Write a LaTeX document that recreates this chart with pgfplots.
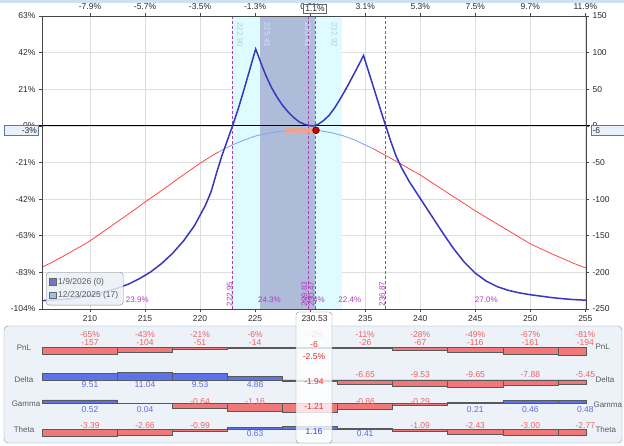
\documentclass[border=0pt]{standalone}
\usepackage{fontspec}
\setmainfont{Liberation Sans}
\usepackage{pgfplots}
\pgfplotsset{compat=1.18}

\definecolor{dblue}{RGB}{55,55,190}
\definecolor{lblue}{RGB}{130,170,240}
\definecolor{tred}{RGB}{255,70,70}
\definecolor{cyanfill}{RGB}{222,252,255}
\definecolor{darkfill}{RGB}{174,188,218}
\definecolor{purp}{RGB}{175,60,185}
\definecolor{barred}{RGB}{240,120,120}
\definecolor{barblue}{RGB}{90,115,235}
\definecolor{txtred}{RGB}{240,95,95}
\definecolor{txtblue}{RGB}{95,105,230}
\definecolor{cred}{RGB}{235,40,40}
\definecolor{cblue}{RGB}{50,60,230}
\definecolor{panelfill}{RGB}{237,242,249}
\definecolor{panelline}{RGB}{130,148,170}
\definecolor{gridc}{RGB}{222,222,222}
\definecolor{axc}{RGB}{70,70,70}
\definecolor{tickc}{RGB}{40,40,40}
\definecolor{salmon}{RGB}{240,165,140}
\definecolor{mred}{RGB}{200,10,10}
\definecolor{rowc}{RGB}{90,90,90}
\definecolor{labA}{RGB}{180,205,230}
\definecolor{labB}{RGB}{215,225,242}
\definecolor{legdark}{RGB}{95,95,195}
\definecolor{leglight}{RGB}{140,185,235}
\definecolor{legfill}{RGB}{234,240,248}
\definecolor{topbar}{RGB}{205,225,245}
\definecolor{boxfill}{RGB}{232,240,250}
\definecolor{boxline}{RGB}{90,120,160}

\newcommand{\tfs}{\fontsize{8.5}{10}\selectfont}
\newcommand{\tfsm}{\fontsize{8}{9.5}\selectfont}
\newcommand{\lab}[4]{\node[font=\tfs, text=#3, inner sep=0pt, yshift=#2] at (axis cs:#1,0) {#4};}

\pgfplotsset{
  rowaxis/.style={at={(42pt,-443pt)}, anchor=south west, scale only axis, width=544pt, height=117pt,
    xmin=205.64, xmax=255.06, hide axis, clip=false},
  negbar/.style={ybar interval, fill=barred, draw=black!65, line width=0.5pt},
  posbar/.style={ybar interval, fill=barblue, draw=black!65, line width=0.5pt},
}

\begin{document}
\begin{tikzpicture}[x=1pt,y=1pt]
\useasboundingbox (0,0) rectangle (624,-445);
\fill[topbar] (0,0) rectangle (624,-3);

% ---------------- main chart ----------------
\begin{axis}[at={(42pt,-309pt)}, anchor=south west, scale only axis, width=544pt, height=293pt,
  xmin=205.64, xmax=255.06, ymin=-250, ymax=150, clip=false,
  xtick={210,215,...,255}, xticklabels={210,215,220,225,{},235,240,245,250,255},
  ytick={-250,-200,...,150}, yticklabels={-104\%,-83\%,-63\%,-42\%,-21\%,0\%,21\%,42\%,63\%},
  xtick pos=left, ytick pos=left, tick align=outside, major tick length=3pt,
  grid=major, major grid style={gridc, line width=0.6pt},
  axis line style={axc, line width=0.9pt},
  every tick/.style={axc, line width=0.6pt},
  tick label style={font=\tfs, text=tickc}]

\addplot[fill=cyanfill, draw=none] coordinates {(222.90,-250) (232.92,-250) (232.92,150) (222.90,150)} -- cycle;
\addplot[fill=darkfill, draw=none] coordinates {(225.41,-250) (230.41,-250) (230.41,150) (225.41,150)} -- cycle;

% T+17 curve
\addplot[tred, line width=0.8pt] coordinates {(205.64,-193) (206.5,-186.5) (207.5,-178.5) (208.5,-170) (209.5,-161.5) (210,-157) (211,-146.5) (212,-136) (213,-125.5) (214,-115) (215,-104) (216,-93.5) (217,-83) (218,-72) (219,-61.5) (220,-51) (221,-41.5) (221.7,-35.5)};
\addplot[lblue, line width=0.9pt] coordinates {(221.7,-35.5) (222,-33) (223,-25.5) (224,-19.5) (225,-14) (226,-10.5) (227,-8) (228,-6.5) (229,-5.7) (229.8,-5.5) (230.53,-6) (231,-6.8) (232,-9.5) (233,-13.5) (234,-19) (235,-26) (235.7,-31)};
\addplot[tred, line width=0.8pt] coordinates {(235.7,-31) (236,-33.5) (237,-41.5) (238,-50) (239,-58.5) (240,-67) (241,-77) (242,-86.5) (243,-96.5) (244,-106) (245,-116) (246,-125) (247,-134) (248,-143) (249,-152) (250,-161) (251,-168) (252,-175) (253,-181.5) (254,-188) (255.06,-194)};

% zero line
\addplot[black, line width=0.8pt] coordinates {(205.37,0) (255.42,0)};

% dashed verticals
\addplot[purp, line width=1.2pt, dash pattern=on 3pt off 2pt] coordinates {(222.95,-250) (222.95,150)};
\addplot[purp, line width=1.2pt, dash pattern=on 3pt off 2pt] coordinates {(229.83,-250) (229.83,150)};
\addplot[purp, line width=1.2pt, dash pattern=on 3pt off 2pt] coordinates {(230.47,-250) (230.47,150)};
\addplot[purp, line width=1.2pt, dash pattern=on 3pt off 2pt] coordinates {(236.87,-250) (236.87,150)};

% expiration curve
\addplot[dblue, line width=1.5pt] coordinates {(205.64,-238.5) (206.5,-238) (207.5,-237) (208.5,-235.5) (209.5,-233) (210.5,-230) (211.5,-226) (212.5,-221.5) (213.5,-216) (214.5,-208.5) (215.5,-199.5) (216.5,-188) (217.5,-174) (218.5,-157) (219.5,-136) (220.5,-108) (221,-90) (221.5,-64) (222,-40) (222.5,-19) (222.95,0) (223.5,25) (224,50) (224.5,76) (225.05,105)
 (225.3,95) (225.6,83) (226,68) (226.5,52) (227,39) (227.5,28) (228,19) (228.5,11.5) (229,5.5) (229.5,2) (230,0.3) (230.3,0) (230.7,2) (231.2,7) (231.7,14) (232.2,24) (232.7,36) (233.2,49) (233.7,63) (234.2,77) (234.85,96)
 (235.5,65) (236,41) (236.5,17) (236.87,0) (237.3,-20) (237.8,-41) (238.3,-57) (239,-76) (240,-99) (241,-122) (242,-145) (243,-167) (244,-186) (245,-201) (246,-212) (247,-219.5) (248,-224.5) (249,-228) (250,-230.5) (251,-232.5) (252,-234.5) (253,-236) (254,-237.2) (255.06,-238)};

% expected band and marker
\addplot[fill=salmon, draw=none, fill opacity=0.85] coordinates {(227.7,-3) (230.4,-3) (230.4,-10) (227.7,-10)} -- cycle;
\addplot[only marks, mark=*, mark size=3.3pt, mark options={fill=mred, draw=black!60!red, line width=0.8pt}] coordinates {(230.53,-6)};

% vertical labels at top
\node[font=\tfsm, text=labA, anchor=south west, xshift=1.5pt, yshift=-3pt, rotate=-90] at (axis cs:222.90,150) {222.90};
\node[font=\tfsm, text=labB, anchor=south west, xshift=1.5pt, yshift=-3pt, rotate=-90] at (axis cs:225.41,150) {225.41};
\node[font=\tfsm, text=labB, anchor=north west, xshift=-0.5pt, yshift=-3pt, rotate=-90] at (axis cs:230.41,150) {230.41};
\node[font=\tfsm, text=labA, anchor=north west, xshift=-1.5pt, yshift=-3pt, rotate=-90] at (axis cs:232.92,150) {232.92};

% percent labels at bottom
\node[font=\tfsm, text=purp] at (axis cs:214.3,-250) [yshift=9pt] {23.9\%};
\node[font=\tfsm, text=purp] at (axis cs:226.3,-250) [yshift=9pt] {24.3\%};
\node[font=\tfsm, text=purp] at (axis cs:230.3,-250) [yshift=9pt] {23.4\%};
\node[font=\tfsm, text=purp] at (axis cs:233.6,-250) [yshift=9pt] {22.4\%};
\node[font=\tfsm, text=purp] at (axis cs:246.0,-250) [yshift=9pt] {27.0\%};

% rotated dashed-line labels
\node[font=\tfsm, text=purp, anchor=south west, inner sep=0.5pt, xshift=0.5pt, yshift=2pt, rotate=90] at (axis cs:222.95,-250) {222.95};
\node[font=\tfsm, text=purp, anchor=south west, inner sep=0.5pt, xshift=-0.5pt, yshift=2pt, rotate=90] at (axis cs:229.83,-250) {229.83};
\node[font=\tfsm, text=purp, anchor=south west, inner sep=0.5pt, xshift=-0.5pt, yshift=2pt, rotate=90] at (axis cs:230.47,-250) {230.47};
\node[font=\tfsm, text=purp, anchor=south west, inner sep=0.5pt, xshift=0pt, yshift=2pt, rotate=90] at (axis cs:236.87,-250) {236.87};
\end{axis}

% overlay axis: top and right scales, legend
\begin{axis}[at={(42pt,-309pt)}, anchor=south west, scale only axis, width=544pt, height=293pt,
  xmin=205.64, xmax=255.06, ymin=-250, ymax=150,
  xtick={210,215,...,255}, xticklabels={-7.9\%,-5.7\%,-3.5\%,-1.3\%,0.9\%,3.1\%,5.3\%,7.5\%,9.7\%,11.9\%},
  ytick={-250,-200,...,150}, yticklabels={-250,-200,-150,-100,-50,0,50,100,150},
  xtick pos=right, xticklabel pos=right, ytick pos=right, yticklabel pos=right,
  tick align=outside, major tick length=3pt,
  axis line style={axc, line width=0.9pt},
  every tick/.style={axc, line width=0.6pt},
  tick label style={font=\tfs, text=tickc},
  legend cell align=left,
  legend image code/.code={\draw[#1, line width=0.5pt, sharp corners] (0pt,-3pt) rectangle (6.5pt,3.5pt);},
  legend style={at={(0.0074,0.126)}, anchor=north west, draw=rowc!70, fill=legfill, fill opacity=0.85, text opacity=1, draw opacity=1,
    rounded corners=3pt, font=\tfs, text=rowc, inner xsep=3pt, inner ysep=4pt, row sep=1.5pt}]
\addlegendimage{fill=legdark, draw=black!60}
\addlegendentry{1/9/2026 (0)}
\addlegendimage{fill=leglight, draw=black!60}
\addlegendentry{12/23/2025 (17)}
\end{axis}

% boxes on axes
\node[draw=boxline, fill=boxfill, minimum height=10pt, text width=31pt, align=right, inner sep=1.5pt, font=\tfs, text=tickc] at (21.5,-130.5) {-3\%};
\node[draw=boxline, fill=boxfill, minimum height=10pt, text width=31pt, align=left, inner sep=1.5pt, font=\tfs, text=tickc] at (608,-130.5) {-6};
\node[draw=black!60, fill=white, minimum width=23pt, minimum height=9.5pt, inner sep=0.5pt, font=\tfs, text=tickc] at (315,-8.5) {1.1\%};

% ---------------- greeks panel ----------------
\draw[fill=panelfill, draw=panelline, rounded corners=4pt] (4,-326) rectangle (622,-443);

\node[font=\tfsm, text=rowc] at (24,-348) {PnL};
\node[font=\tfsm, text=rowc] at (24,-380) {Delta};
\node[font=\tfsm, text=rowc] at (26,-404) {Gamma};
\node[font=\tfsm, text=rowc] at (24,-430) {Theta};
\node[font=\tfsm, text=rowc, anchor=west] at (592,-347) {PnL};
\node[font=\tfsm, text=rowc, anchor=west] at (592,-380) {Delta};
\node[font=\tfsm, text=rowc, anchor=west] at (590,-405) {Gamma};
\node[font=\tfsm, text=rowc, anchor=west] at (592,-430) {Theta};

% PnL row
\begin{axis}[rowaxis, ymin=-2382.5, ymax=542.5]
\addplot[negbar] coordinates {(205.64,-157) (212.5,-104) (217.5,-51) (222.5,-14) (227.5,-6) (232.5,-26) (237.5,-67) (242.5,-116) (247.5,-161) (252.5,-194) (255.06,0)};
\lab{210}{12.7pt}{txtred}{-65\%}\lab{210}{4.7pt}{txtred}{-157}
\lab{215}{12.7pt}{txtred}{-43\%}\lab{215}{4.7pt}{txtred}{-104}
\lab{220}{12.7pt}{txtred}{-21\%}\lab{220}{4.7pt}{txtred}{-51}
\lab{225}{12.7pt}{txtred}{-6\%}\lab{225}{4.7pt}{txtred}{-14}
\lab{230.53}{12.7pt}{txtred}{-2\%}
\lab{235}{12.7pt}{txtred}{-11\%}\lab{235}{4.7pt}{txtred}{-26}
\lab{240}{12.7pt}{txtred}{-28\%}\lab{240}{4.7pt}{txtred}{-67}
\lab{245}{12.7pt}{txtred}{-49\%}\lab{245}{4.7pt}{txtred}{-116}
\lab{250}{12.7pt}{txtred}{-67\%}\lab{250}{4.7pt}{txtred}{-161}
\lab{255}{12.7pt}{txtred}{-81\%}\lab{255}{4.7pt}{txtred}{-194}
\end{axis}

% Delta row
\begin{axis}[rowaxis, ymin=-90, ymax=77.14]
\addplot[posbar] coordinates {(205.64,9.51) (212.5,11.04) (217.5,9.53) (222.5,4.88) (227.5,0) (232.5,0) (237.5,0) (242.5,0) (247.5,0) (252.5,0) (255.06,0)};
\addplot[negbar] coordinates {(205.64,0) (212.5,0) (217.5,0) (222.5,0) (227.5,-1.94) (232.5,-6.65) (237.5,-9.53) (242.5,-9.65) (247.5,-7.88) (252.5,-5.45) (255.06,0)};
\lab{210}{-5pt}{txtblue}{9.51}
\lab{215}{-5pt}{txtblue}{11.04}
\lab{220}{-5pt}{txtblue}{9.53}
\lab{225}{-5pt}{txtblue}{4.88}
\lab{235}{5pt}{txtred}{-6.65}
\lab{240}{5pt}{txtred}{-9.53}
\lab{245}{5pt}{txtred}{-9.65}
\lab{250}{5pt}{txtred}{-7.88}
\lab{255}{5pt}{txtred}{-5.45}
\end{axis}

% Gamma row
\begin{axis}[rowaxis, ymin=-5.643, ymax=11.071]
\addplot[negbar] coordinates {(205.64,0) (212.5,0) (217.5,-0.64) (222.5,-1.16) (227.5,-1.21) (232.5,-0.86) (237.5,-0.29) (242.5,0) (247.5,0) (252.5,0) (255.06,0)};
\addplot[posbar] coordinates {(205.64,0.52) (212.5,0.04) (217.5,0) (222.5,0) (227.5,0) (232.5,0) (237.5,0) (242.5,0.21) (247.5,0.46) (252.5,0.48) (255.06,0)};
\lab{210}{-6.5pt}{txtblue}{0.52}
\lab{215}{-6.5pt}{txtblue}{0.04}
\lab{220}{2pt}{txtred}{-0.64}
\lab{225}{2pt}{txtred}{-1.16}
\lab{235}{2pt}{txtred}{-0.86}
\lab{240}{2pt}{txtred}{-0.29}
\lab{245}{-6.5pt}{txtblue}{0.21}
\lab{250}{-6.5pt}{txtblue}{0.46}
\lab{255}{-6.5pt}{txtblue}{0.48}
\end{axis}

% Theta row
\begin{axis}[rowaxis, ymin=-6.364, ymax=46.82]
\addplot[negbar] coordinates {(205.64,-3.39) (212.5,-2.66) (217.5,-0.99) (222.5,0) (227.5,0) (232.5,0) (237.5,-1.09) (242.5,-2.43) (247.5,-3.00) (252.5,-2.77) (255.06,0)};
\addplot[posbar] coordinates {(205.64,0) (212.5,0) (217.5,0) (222.5,0.63) (227.5,1.16) (232.5,0.41) (237.5,0) (242.5,0) (247.5,0) (252.5,0) (255.06,0)};
\lab{210}{3.3pt}{txtred}{-3.39}
\lab{215}{3.3pt}{txtred}{-2.66}
\lab{220}{3.3pt}{txtred}{-0.99}
\lab{225}{-5pt}{txtblue}{0.63}
\lab{235}{-5pt}{txtblue}{0.41}
\lab{240}{3.3pt}{txtred}{-1.09}
\lab{245}{3.3pt}{txtred}{-2.43}
\lab{250}{3.3pt}{txtred}{-3.00}
\lab{255}{3.3pt}{txtred}{-2.77}
\end{axis}

% highlighted current-price column
\draw[fill=white, fill opacity=0.8, draw=black!45, rounded corners=3pt] (296,-312) rectangle (332,-443);
\node[font=\tfs, text=tickc] at (314.5,-319) {230.53};
\node[font=\tfs, text=cred] at (314,-345) {-6};
\node[font=\tfs, text=cred] at (314,-357) {-2.5\%};
\node[font=\tfs, text=cred] at (314,-381.5) {-1.94};
\node[font=\tfs, text=cred] at (314,-407) {-1.21};
\node[font=\tfs, text=cblue] at (314,-432) {1.16};
\end{tikzpicture}
\end{document}
